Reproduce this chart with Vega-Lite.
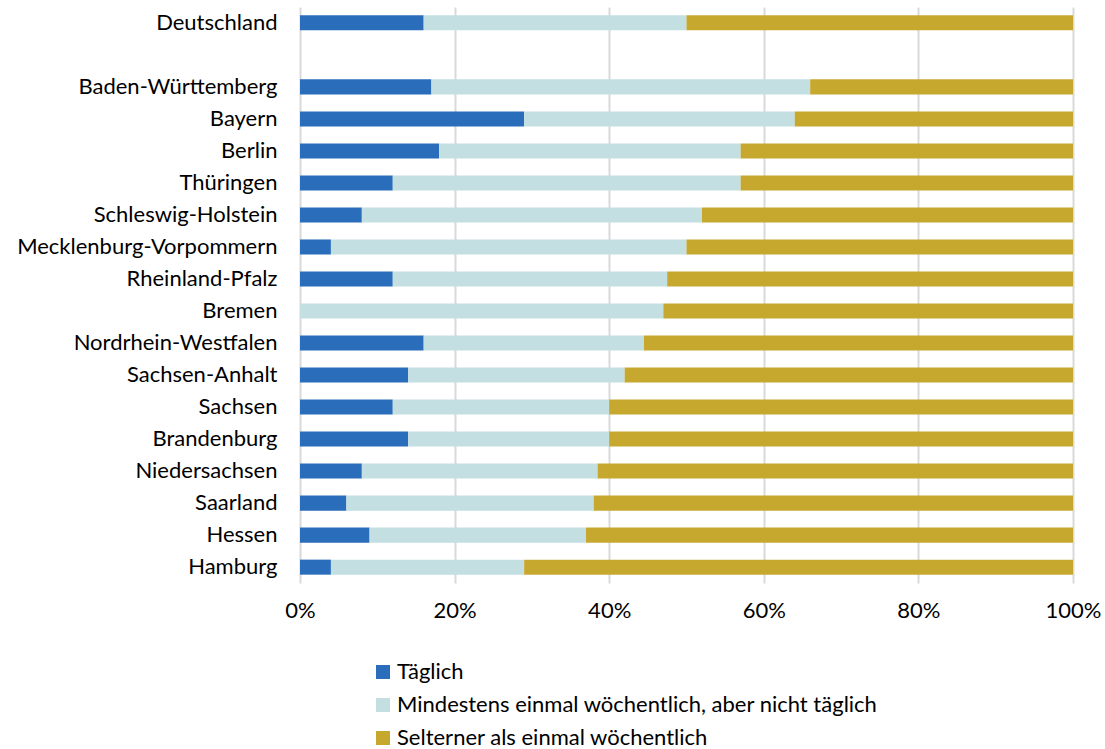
{
  "$schema": "https://vega.github.io/schema/vega-lite/v6.json",
  "width": 773,
  "height": 576,
  "autosize": {"type": "none"},
  "padding": {"left": 300, "top": 7, "right": 32, "bottom": 166},
  "background": "white",
  "config": {
    "view": {"stroke": null},
    "font": "Lato",
    "axis": {"labelFont": "Lato", "labelFontSize": 22, "labelColor": "#000000"},
    "legend": {"labelFont": "Lato", "labelFontSize": 22, "labelColor": "#000000"}
  },
  "data": {
    "values": [
      {"Land": "Deutschland", "Kategorie": "Täglich", "ord": 1, "Wert": 16},
      {"Land": "Deutschland", "Kategorie": "Mindestens einmal wöchentlich, aber nicht täglich", "ord": 2, "Wert": 34},
      {"Land": "Deutschland", "Kategorie": "Selterner als einmal wöchentlich", "ord": 3, "Wert": 50},
      {"Land": "Baden-Württemberg", "Kategorie": "Täglich", "ord": 1, "Wert": 17},
      {"Land": "Baden-Württemberg", "Kategorie": "Mindestens einmal wöchentlich, aber nicht täglich", "ord": 2, "Wert": 49},
      {"Land": "Baden-Württemberg", "Kategorie": "Selterner als einmal wöchentlich", "ord": 3, "Wert": 34},
      {"Land": "Bayern", "Kategorie": "Täglich", "ord": 1, "Wert": 29},
      {"Land": "Bayern", "Kategorie": "Mindestens einmal wöchentlich, aber nicht täglich", "ord": 2, "Wert": 35},
      {"Land": "Bayern", "Kategorie": "Selterner als einmal wöchentlich", "ord": 3, "Wert": 36},
      {"Land": "Berlin", "Kategorie": "Täglich", "ord": 1, "Wert": 18},
      {"Land": "Berlin", "Kategorie": "Mindestens einmal wöchentlich, aber nicht täglich", "ord": 2, "Wert": 39},
      {"Land": "Berlin", "Kategorie": "Selterner als einmal wöchentlich", "ord": 3, "Wert": 43},
      {"Land": "Thüringen", "Kategorie": "Täglich", "ord": 1, "Wert": 12},
      {"Land": "Thüringen", "Kategorie": "Mindestens einmal wöchentlich, aber nicht täglich", "ord": 2, "Wert": 45},
      {"Land": "Thüringen", "Kategorie": "Selterner als einmal wöchentlich", "ord": 3, "Wert": 43},
      {"Land": "Schleswig-Holstein", "Kategorie": "Täglich", "ord": 1, "Wert": 8},
      {"Land": "Schleswig-Holstein", "Kategorie": "Mindestens einmal wöchentlich, aber nicht täglich", "ord": 2, "Wert": 44},
      {"Land": "Schleswig-Holstein", "Kategorie": "Selterner als einmal wöchentlich", "ord": 3, "Wert": 48},
      {"Land": "Mecklenburg-Vorpommern", "Kategorie": "Täglich", "ord": 1, "Wert": 4},
      {"Land": "Mecklenburg-Vorpommern", "Kategorie": "Mindestens einmal wöchentlich, aber nicht täglich", "ord": 2, "Wert": 46},
      {"Land": "Mecklenburg-Vorpommern", "Kategorie": "Selterner als einmal wöchentlich", "ord": 3, "Wert": 50},
      {"Land": "Rheinland-Pfalz", "Kategorie": "Täglich", "ord": 1, "Wert": 12},
      {"Land": "Rheinland-Pfalz", "Kategorie": "Mindestens einmal wöchentlich, aber nicht täglich", "ord": 2, "Wert": 35.5},
      {"Land": "Rheinland-Pfalz", "Kategorie": "Selterner als einmal wöchentlich", "ord": 3, "Wert": 52.5},
      {"Land": "Bremen", "Kategorie": "Täglich", "ord": 1, "Wert": 0},
      {"Land": "Bremen", "Kategorie": "Mindestens einmal wöchentlich, aber nicht täglich", "ord": 2, "Wert": 47},
      {"Land": "Bremen", "Kategorie": "Selterner als einmal wöchentlich", "ord": 3, "Wert": 53},
      {"Land": "Nordrhein-Westfalen", "Kategorie": "Täglich", "ord": 1, "Wert": 16},
      {"Land": "Nordrhein-Westfalen", "Kategorie": "Mindestens einmal wöchentlich, aber nicht täglich", "ord": 2, "Wert": 28.5},
      {"Land": "Nordrhein-Westfalen", "Kategorie": "Selterner als einmal wöchentlich", "ord": 3, "Wert": 55.5},
      {"Land": "Sachsen-Anhalt", "Kategorie": "Täglich", "ord": 1, "Wert": 14},
      {"Land": "Sachsen-Anhalt", "Kategorie": "Mindestens einmal wöchentlich, aber nicht täglich", "ord": 2, "Wert": 28},
      {"Land": "Sachsen-Anhalt", "Kategorie": "Selterner als einmal wöchentlich", "ord": 3, "Wert": 58},
      {"Land": "Sachsen", "Kategorie": "Täglich", "ord": 1, "Wert": 12},
      {"Land": "Sachsen", "Kategorie": "Mindestens einmal wöchentlich, aber nicht täglich", "ord": 2, "Wert": 28},
      {"Land": "Sachsen", "Kategorie": "Selterner als einmal wöchentlich", "ord": 3, "Wert": 60},
      {"Land": "Brandenburg", "Kategorie": "Täglich", "ord": 1, "Wert": 14},
      {"Land": "Brandenburg", "Kategorie": "Mindestens einmal wöchentlich, aber nicht täglich", "ord": 2, "Wert": 26},
      {"Land": "Brandenburg", "Kategorie": "Selterner als einmal wöchentlich", "ord": 3, "Wert": 60},
      {"Land": "Niedersachsen", "Kategorie": "Täglich", "ord": 1, "Wert": 8},
      {"Land": "Niedersachsen", "Kategorie": "Mindestens einmal wöchentlich, aber nicht täglich", "ord": 2, "Wert": 30.5},
      {"Land": "Niedersachsen", "Kategorie": "Selterner als einmal wöchentlich", "ord": 3, "Wert": 61.5},
      {"Land": "Saarland", "Kategorie": "Täglich", "ord": 1, "Wert": 6},
      {"Land": "Saarland", "Kategorie": "Mindestens einmal wöchentlich, aber nicht täglich", "ord": 2, "Wert": 32},
      {"Land": "Saarland", "Kategorie": "Selterner als einmal wöchentlich", "ord": 3, "Wert": 62},
      {"Land": "Hessen", "Kategorie": "Täglich", "ord": 1, "Wert": 9},
      {"Land": "Hessen", "Kategorie": "Mindestens einmal wöchentlich, aber nicht täglich", "ord": 2, "Wert": 28},
      {"Land": "Hessen", "Kategorie": "Selterner als einmal wöchentlich", "ord": 3, "Wert": 63},
      {"Land": "Hamburg", "Kategorie": "Täglich", "ord": 1, "Wert": 4},
      {"Land": "Hamburg", "Kategorie": "Mindestens einmal wöchentlich, aber nicht täglich", "ord": 2, "Wert": 25},
      {"Land": "Hamburg", "Kategorie": "Selterner als einmal wöchentlich", "ord": 3, "Wert": 71}
    ]
  },
  "mark": {"type": "bar"},
  "encoding": {
    "y": {
      "field": "Land",
      "type": "nominal",
      "title": null,
      "scale": {
        "domain": ["Deutschland", " ", "Baden-Württemberg", "Bayern", "Berlin", "Thüringen", "Schleswig-Holstein", "Mecklenburg-Vorpommern", "Rheinland-Pfalz", "Bremen", "Nordrhein-Westfalen", "Sachsen-Anhalt", "Sachsen", "Brandenburg", "Niedersachsen", "Saarland", "Hessen", "Hamburg"],
        "paddingInner": 0.53,
        "paddingOuter": 0.26
      },
      "axis": {"domain": false, "ticks": false, "labelPadding": 23, "grid": false, "labelLimit": 400}
    },
    "x": {
      "field": "Wert",
      "type": "quantitative",
      "stack": "normalize",
      "title": null,
      "scale": {"domain": [0, 1]},
      "axis": {
        "format": ".0%",
        "values": [0, 0.2, 0.4, 0.6, 0.8, 1],
        "domain": false,
        "ticks": false,
        "grid": true,
        "gridColor": "#d9d9d9",
        "gridWidth": 2,
        "labelPadding": 17,
        "labelFlush": false
      }
    },
    "color": {
      "field": "Kategorie",
      "type": "nominal",
      "scale": {
        "domain": ["Täglich", "Mindestens einmal wöchentlich, aber nicht täglich", "Selterner als einmal wöchentlich"],
        "range": ["#2A6EBB", "#C3DFE2", "#C7A82F"]
      },
      "legend": {
        "title": null,
        "orient": "none",
        "legendX": 72,
        "legendY": 654,
        "direction": "vertical",
        "symbolType": "square",
        "symbolSize": 196,
        "symbolStrokeWidth": 0,
        "rowPadding": 11,
        "labelOffset": 3,
        "labelLimit": 700
      }
    },
    "order": {"field": "ord", "type": "quantitative"}
  }
}
